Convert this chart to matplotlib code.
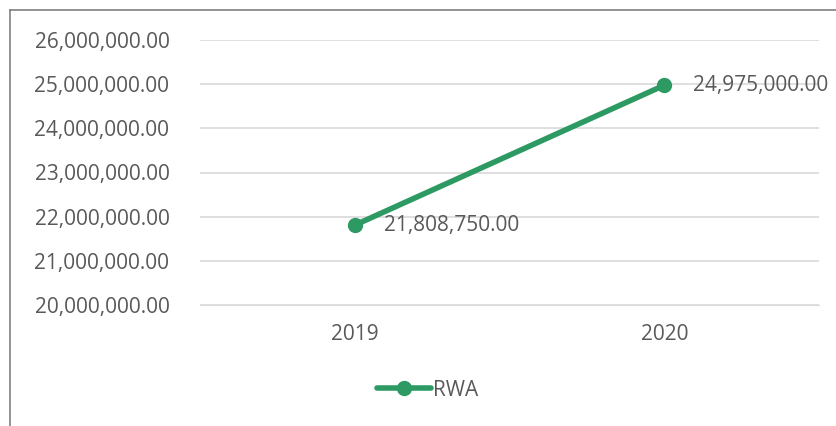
import matplotlib.pyplot as plt
from matplotlib.lines import Line2D
from matplotlib.ticker import FuncFormatter

years = ["2019", "2020"]
rwa = [21808750.00, 24975000.00]

green = "#2E9A63"
text_col = "#595959"
plt.rcParams['font.family'] = ['Open Sans', 'DejaVu Sans']
fs = 15

fig = plt.figure(figsize=(8.36, 4.26), dpi=100)
ax = fig.add_axes([200/836, 1 - 305/426, 619/836, 265/426])

x = [0, 1]
ax.plot(x, rwa, color=green, lw=4, marker='o', ms=10, solid_capstyle='round')
for xi, v in zip(x, rwa):
    ax.annotate(f"{v:,.2f}", (xi, v), xytext=(21, 0), textcoords='offset points',
                ha='left', va='center', fontsize=fs, color=text_col)

ax.set_xlim(-0.5, 1.5)
ax.set_ylim(20e6, 26e6)
ax.set_yticks([20e6 + i * 1e6 for i in range(7)])
ax.yaxis.set_major_formatter(FuncFormatter(lambda v, p: f"{v:,.2f}"))
ax.set_xticks(x)
ax.set_xticklabels(years)
ax.grid(axis='y', color='#d9d9d9', lw=1.2)
ax.set_axisbelow(True)
for s in ax.spines.values():
    s.set_visible(False)
ax.spines['bottom'].set_visible(True)
ax.spines['bottom'].set_color('#d9d9d9')
ax.tick_params(length=0, labelsize=fs, labelcolor=text_col)
ax.tick_params(axis='y', pad=22)
ax.tick_params(axis='x', pad=14)

handle = Line2D([], [], color=green, lw=4, marker='o', ms=10, solid_capstyle='round')
fig.legend([handle], ["RWA"], loc='center', bbox_to_anchor=(428/836, 1 - 390/426),
           frameon=False, fontsize=fs, labelcolor=text_col, handlelength=2.6,
           handletextpad=0.1)

# outer chart border (left and top visible)
fig.add_artist(Line2D([10/836, 10/836], [0, 1 - 10/426], color='#808080', lw=1.2))
fig.add_artist(Line2D([10/836, 1], [1 - 10/426, 1 - 10/426], color='#808080', lw=1.2))

fig.savefig("out.png", dpi=100)
